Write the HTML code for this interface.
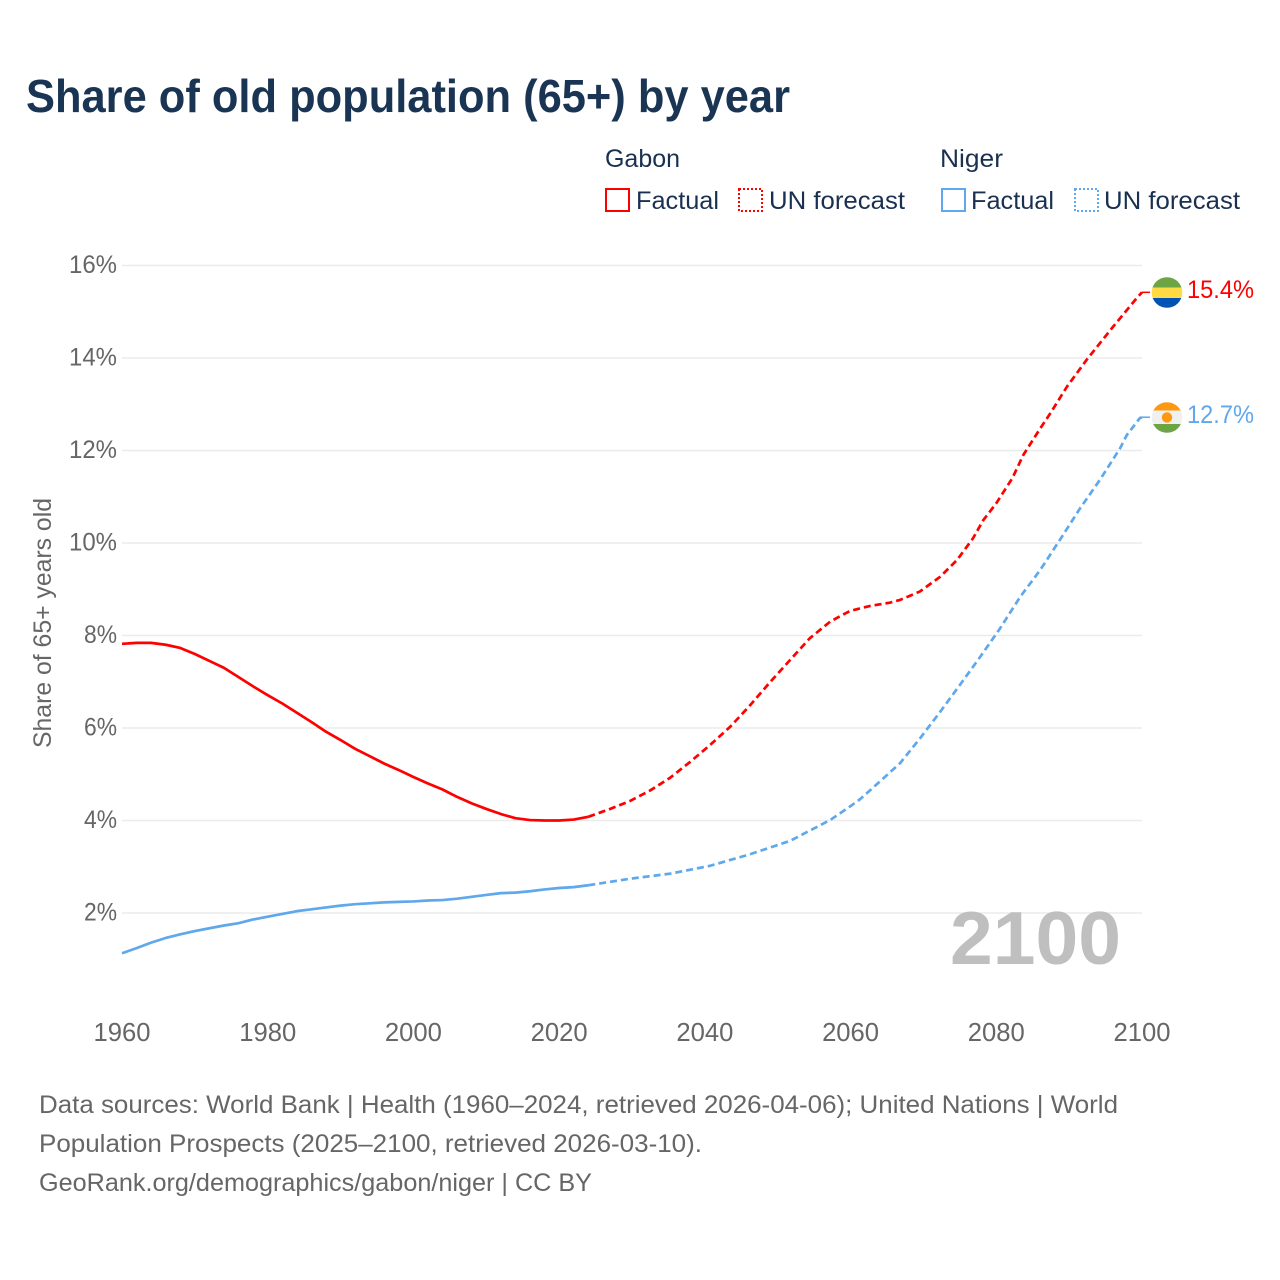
<!DOCTYPE html>
<html lang="en">
<head>
<meta charset="utf-8">
<title>Share of old population (65+) by year</title>
<style>
html,body{margin:0;padding:0;background:#fff;}
svg{display:block;font-family:"Liberation Sans",sans-serif;}
</style>
</head>
<body>
<svg id="chart" xmlns="http://www.w3.org/2000/svg" width="1280" height="1280" viewBox="0 0 1280 1280">
  <rect width="1280" height="1280" fill="#ffffff"/>
  <defs>
    <clipPath id="gabon-clip"><circle cx="1167" cy="292.5" r="15.3"/></clipPath>
    <clipPath id="niger-clip"><circle cx="1167" cy="417.5" r="15.3"/></clipPath>
  </defs>

  <text x="26" y="112" font-size="46" font-weight="700" fill="#1a3553" textLength="764" lengthAdjust="spacingAndGlyphs">Share of old population (65+) by year</text>

  <g font-size="25" fill="#1a3050">
    <text x="605" y="167" textLength="75" lengthAdjust="spacingAndGlyphs">Gabon</text>
    <text x="940" y="167" textLength="63" lengthAdjust="spacingAndGlyphs">Niger</text>

    <rect x="606" y="189" width="23" height="22" fill="none" stroke="#ff0000" stroke-width="2"/>
    <text x="636" y="209" textLength="83" lengthAdjust="spacingAndGlyphs">Factual</text>
    <rect x="739" y="189" width="23" height="22" fill="none" stroke="#ff0000" stroke-width="2" stroke-dasharray="2 2"/>
    <text x="769" y="209" textLength="136" lengthAdjust="spacingAndGlyphs">UN forecast</text>

    <rect x="942" y="189" width="23" height="22" fill="none" stroke="#5fa8ec" stroke-width="2"/>
    <text x="971" y="209" textLength="83" lengthAdjust="spacingAndGlyphs">Factual</text>
    <rect x="1075" y="189" width="23" height="22" fill="none" stroke="#5fa8ec" stroke-width="2" stroke-dasharray="2 2"/>
    <text x="1104" y="209" textLength="136" lengthAdjust="spacingAndGlyphs">UN forecast</text>
  </g>

  <g id="grid"></g>
  <g id="y-ticks"></g>
  <g id="x-ticks"></g>

  <text transform="translate(51 623) rotate(-90)" text-anchor="middle" font-size="25" fill="#666666" textLength="250" lengthAdjust="spacingAndGlyphs">Share of 65+ years old</text>

  <text x="950" y="964" font-size="75" font-weight="700" fill="#bfbfbf" textLength="171" lengthAdjust="spacingAndGlyphs">2100</text>

  <g id="series"></g>

  <g clip-path="url(#gabon-clip)">
    <rect x="1150" y="276" width="34" height="12" fill="#6da544"/>
    <rect x="1150" y="287.5" width="34" height="10.5" fill="#ffda44"/>
    <rect x="1150" y="298" width="34" height="12" fill="#0052b4"/>
  </g>
  <g clip-path="url(#niger-clip)">
    <rect x="1150" y="401" width="34" height="10" fill="#ff9811"/>
    <rect x="1150" y="410.5" width="34" height="14" fill="#f0f0f0"/>
    <rect x="1150" y="424" width="34" height="11" fill="#6da544"/>
    <circle cx="1167" cy="417.4" r="5.2" fill="#ff9811"/>
  </g>

  <text x="1187" y="298" font-size="25" fill="#ff0000" textLength="67" lengthAdjust="spacingAndGlyphs">15.4%</text>
  <text x="1187" y="423" font-size="25" fill="#5fa8ec" textLength="67" lengthAdjust="spacingAndGlyphs">12.7%</text>

  <g font-size="25" fill="#666666">
    <text x="39" y="1113" textLength="1079" lengthAdjust="spacingAndGlyphs">Data sources: World Bank | Health (1960–2024, retrieved 2026-04-06); United Nations | World</text>
    <text x="39" y="1152" textLength="663" lengthAdjust="spacingAndGlyphs">Population Prospects (2025–2100, retrieved 2026-03-10).</text>
    <text x="39" y="1191" textLength="553" lengthAdjust="spacingAndGlyphs">GeoRank.org/demographics/gabon/niger | CC BY</text>
  </g>
</svg>

<script>
const yTickValues = [2, 4, 6, 8, 10, 12, 14, 16];
const xTickYears = [1960, 1980, 2000, 2020, 2040, 2060, 2080, 2100];

const factualYears = [1960,1962,1964,1966,1968,1970,1972,1974,1976,1978,1980,1982,1984,1986,1988,1990,1992,1994,1996,1998,2000,2002,2004,2006,2008,2010,2012,2014,2016,2018,2020,2022,2024];
const gabonFactual = [7.82,7.84,7.84,7.80,7.73,7.60,7.45,7.30,7.10,6.90,6.71,6.53,6.33,6.13,5.92,5.74,5.55,5.39,5.23,5.09,4.94,4.80,4.67,4.51,4.37,4.25,4.14,4.05,4.01,4.00,4.00,4.02,4.08];
const nigerFactual = [1.13,1.24,1.36,1.46,1.54,1.61,1.67,1.73,1.78,1.86,1.92,1.98,2.04,2.08,2.12,2.16,2.19,2.21,2.23,2.24,2.25,2.27,2.28,2.31,2.35,2.39,2.43,2.44,2.47,2.51,2.54,2.56,2.60];

const gabonForecastYears = [2024,2027,2029.7,2032.5,2035.2,2038,2040.7,2043.5,2046.2,2049,2051.7,2054.4,2057.2,2059.9,2062.7,2065.4,2066.8,2069.5,2072.3,2074.6,2076.8,2078.2,2080,2082.2,2083.7,2086,2087.4,2089.7,2092.4,2096,2099.3,2100];
const gabonForecast = [4.08,4.25,4.42,4.65,4.92,5.27,5.63,6.03,6.49,7.00,7.47,7.94,8.30,8.53,8.64,8.71,8.77,8.95,9.27,9.63,10.10,10.49,10.86,11.40,11.90,12.47,12.80,13.38,13.96,14.67,15.30,15.42];

const nigerForecastYears = [2024,2029.7,2035.2,2040.7,2046.2,2051.7,2057.2,2059.9,2061.3,2064,2066.8,2069.5,2072.3,2075,2077.8,2080.5,2083.3,2086,2088.7,2091.5,2094.2,2097,2097.9,2099.7,2100];
const nigerForecast = [2.60,2.74,2.85,3.02,3.27,3.56,4.01,4.30,4.46,4.84,5.24,5.77,6.35,6.93,7.54,8.15,8.84,9.41,10.06,10.75,11.36,12.05,12.33,12.70,12.72];

const SVG_NS = 'http://www.w3.org/2000/svg';
const xScale = function (year) { return 122 + (year - 1960) * (1020 / 140); };
const yScale = function (value) { return 1005.5 - value * 46.25; };
const linePath = function (years, values) {
  return years.map(function (year, i) {
    return (i ? 'L' : 'M') + xScale(year).toFixed(2) + ' ' + yScale(values[i]).toFixed(2);
  }).join(' ');
};

const gridLayer = document.getElementById('grid');
const yTickLayer = document.getElementById('y-ticks');
const xTickLayer = document.getElementById('x-ticks');
const seriesLayer = document.getElementById('series');

yTickValues.forEach(function (value) {
  const gridLine = document.createElementNS(SVG_NS, 'line');
  
  
  gridLine.setAttribute('x1', 122);
  gridLine.setAttribute('x2', 1142);
  gridLine.setAttribute('y1', yScale(value));
  gridLine.setAttribute('y2', yScale(value));
  gridLine.setAttribute('stroke', '#ebebeb');
  gridLine.setAttribute('stroke-width', '1.4');
  gridLayer.appendChild(gridLine);

  const label = document.createElementNS(SVG_NS, 'text');
  
  
  label.setAttribute('x', 117);
  label.setAttribute('y', yScale(value) + 7.5);
  label.setAttribute('text-anchor', 'end');
  label.setAttribute('font-size', '25');
  label.setAttribute('fill', '#666666');
  label.setAttribute('textLength', value >= 10 ? 48 : 33);
  label.setAttribute('lengthAdjust', 'spacingAndGlyphs');
  label.textContent = value + '%';
  yTickLayer.appendChild(label);
});

xTickYears.forEach(function (year) {
  const label = document.createElementNS(SVG_NS, 'text');
  
  
  label.setAttribute('x', xScale(year));
  label.setAttribute('y', 1041);
  label.setAttribute('text-anchor', 'middle');
  label.setAttribute('font-size', '25.5');
  label.setAttribute('fill', '#666666');
  label.setAttribute('textLength', 57);
  label.setAttribute('lengthAdjust', 'spacingAndGlyphs');
  label.textContent = year;
  xTickLayer.appendChild(label);
});

const drawPath = function (name, years, values, color, dashed) {
  const path = document.createElementNS(SVG_NS, 'path');
  
  
  path.setAttribute('d', linePath(years, values));
  path.setAttribute('fill', 'none');
  path.setAttribute('stroke', color);
  path.setAttribute('stroke-width', '2.7');
  path.setAttribute('stroke-linejoin', 'round');
  if (dashed) {
    path.setAttribute('stroke-dasharray', '7 4');
  }
  seriesLayer.appendChild(path);
};

const drawConnector = function (name, value, color) {
  const stub = document.createElementNS(SVG_NS, 'line');
  
  
  stub.setAttribute('x1', xScale(2100));
  stub.setAttribute('x2', xScale(2100) + 8);
  stub.setAttribute('y1', yScale(value));
  stub.setAttribute('y2', yScale(value));
  stub.setAttribute('stroke', color);
  stub.setAttribute('stroke-width', '1.5');
  seriesLayer.appendChild(stub);
};

drawPath('gabon-factual-line', factualYears, gabonFactual, '#ff0000', false);
drawPath('gabon-forecast-line', gabonForecastYears, gabonForecast, '#ff0000', true);
drawPath('niger-factual-line', factualYears, nigerFactual, '#5fa8ec', false);
drawPath('niger-forecast-line', nigerForecastYears, nigerForecast, '#5fa8ec', true);
drawConnector('gabon-end-connector', gabonForecast[gabonForecast.length - 1], '#ff0000');
drawConnector('niger-end-connector', nigerForecast[nigerForecast.length - 1], '#5fa8ec');
</script>
</body>
</html>
